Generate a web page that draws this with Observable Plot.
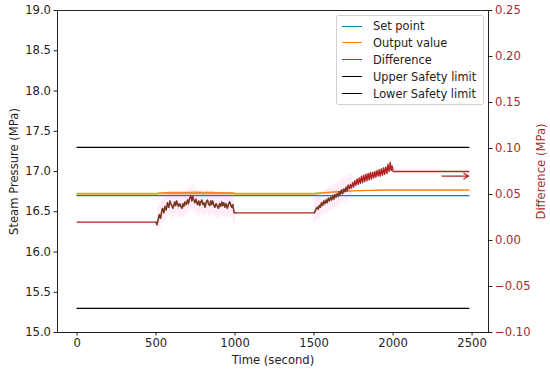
<!DOCTYPE html>
<html><head><meta charset="utf-8">
<script src="https://cdn.jsdelivr.net/npm/d3@7"></script>
<script src="https://cdn.jsdelivr.net/npm/@observablehq/plot@0.6"></script>
<style>
body{margin:0;background:#fff;font-family:"DejaVu Sans",sans-serif;}
#wrap{position:relative;width:550px;height:371px;}
#wrap svg{position:absolute;left:0;top:0;}
#legend{position:absolute;left:336px;top:15px;width:148px;height:90px;border:1px solid #d0d0d0;border-radius:3px;background:rgba(255,255,255,0.85);font-family:"DejaVu Sans",sans-serif;font-size:11.4px;color:#222;box-sizing:border-box;}
.row{position:absolute;left:0;height:17px;display:flex;align-items:center;white-space:nowrap;}
.sw{display:inline-block;width:20px;height:0;border-top:1.5px solid;margin-left:5px;margin-right:11px;}
</style></head><body><div id="wrap"></div>
<script>
// ---- data ----
const limitTime = [0, 2480];
const setPointValue = [16.7, 16.7];
const upperLimitValue = [17.3, 17.3];
const lowerLimitValue = [15.3, 15.3];

const outputTime  = [0, 500, 510, 530, 560, 600, 650, 700, 750, 800, 850, 900, 950, 990, 1000, 1500, 1550, 1600, 1650, 1700, 1750, 1800, 1850, 1900, 1950, 2000, 2480];
const outputValue = [16.724, 16.724, 16.729, 16.735, 16.738, 16.740, 16.739, 16.741, 16.742, 16.740, 16.739, 16.738, 16.737, 16.735, 16.724, 16.724, 16.733, 16.742, 16.749, 16.755, 16.759, 16.763, 16.766, 16.768, 16.770, 16.771, 16.771];

const oliveTime  = [0, 1500, 1545];
const oliveValue = [16.724, 16.724, 16.731];

const diffTime = [0, 500, 505, 512, 520, 528, 536, 541, 549, 556, 564, 572, 580, 588, 593, 600, 606, 612, 618, 624, 630, 636, 642, 650, 657, 664, 670, 676, 682, 690, 699, 705, 712, 720, 726, 732, 739, 746, 752, 762, 770, 776, 783, 790, 796, 802, 810, 818, 825, 832, 840, 846, 852, 858, 865, 872, 880, 888, 895, 902, 909, 916, 922, 928, 935, 942, 951, 958, 965, 972, 978, 985, 990, 995, 1000,
  1500, 1505, 1512, 1519, 1526, 1533, 1540, 1547, 1554, 1561, 1568, 1575, 1582, 1590, 1597, 1604, 1611, 1618, 1625, 1632, 1639, 1646, 1653, 1660, 1667, 1674, 1681, 1688, 1695, 1702, 1709, 1716, 1723, 1730, 1737, 1744, 1751, 1758, 1765, 1772, 1779, 1786, 1793, 1800, 1807, 1814, 1821, 1828, 1835, 1842, 1849, 1856, 1863, 1870, 1877, 1884, 1891, 1898, 1905, 1912, 1919, 1926, 1933, 1940, 1947, 1954, 1961, 1968, 1975, 1982, 1988, 1994, 2000, 2480];
const diffValue = [0.020, 0.020, 0.017, 0.022, 0.028, 0.024, 0.032, 0.035, 0.030, 0.037, 0.033, 0.041, 0.036, 0.043, 0.040, 0.038, 0.035, 0.038, 0.042, 0.038, 0.043, 0.040, 0.037, 0.040, 0.037, 0.035, 0.040, 0.037, 0.042, 0.039, 0.044, 0.040, 0.046, 0.048, 0.043, 0.048, 0.044, 0.041, 0.045, 0.039, 0.043, 0.038, 0.042, 0.044, 0.039, 0.041, 0.036, 0.042, 0.044, 0.040, 0.038, 0.043, 0.039, 0.043, 0.039, 0.036, 0.040, 0.037, 0.035, 0.040, 0.037, 0.042, 0.038, 0.041, 0.036, 0.040, 0.035, 0.039, 0.042, 0.039, 0.036, 0.039, 0.034, 0.030, 0.030,
  0.030, 0.031, 0.034, 0.036, 0.034, 0.038, 0.036, 0.041, 0.038, 0.043, 0.040, 0.044, 0.041, 0.046, 0.043, 0.047, 0.044, 0.049, 0.045, 0.050, 0.047, 0.051, 0.048, 0.053, 0.050, 0.055, 0.051, 0.056, 0.053, 0.058, 0.054, 0.060, 0.056, 0.061, 0.057, 0.063, 0.058, 0.065, 0.060, 0.067, 0.061, 0.068, 0.062, 0.070, 0.063, 0.071, 0.064, 0.072, 0.065, 0.073, 0.066, 0.074, 0.067, 0.074, 0.068, 0.075, 0.069, 0.076, 0.070, 0.077, 0.070, 0.078, 0.071, 0.079, 0.072, 0.080, 0.073, 0.083, 0.075, 0.085, 0.076, 0.081, 0.075, 0.075];

const bandRanges = [[508, 1000], [1500, 1750]];
const bandHalfWidth = 0.013;
const darkRanges = [[500, 1000], [1500, 1720]];

const arrowX1 = [2310], arrowX2 = [2478], arrowY = [0.07];

const xTicks = [0, 500, 1000, 1500, 2000, 2500];
const pressureTicks = [15, 15.5, 16, 16.5, 17, 17.5, 18, 18.5, 19];
const diffTicks = [-0.10, -0.05, 0.00, 0.05, 0.10, 0.15, 0.20, 0.25];

const legendLabels = ["Set point", "Output value", "Difference", "Upper Safety limit", "Lower Safety limit"];
const legendColors = ["#1f77b4", "#ff7f0e", "#c62828", "#000000", "#000000"];

// ---- tables ----
const zip = (t, v) => t.map((x, i) => ({t: x, v: v[i]}));
const setData = zip(limitTime, setPointValue);
const upperData = zip(limitTime, upperLimitValue);
const lowerData = zip(limitTime, lowerLimitValue);
const outData = zip(outputTime, outputValue);
const oliveData = zip(oliveTime, oliveValue);
const diffData = zip(diffTime, diffValue);
const inRange = ([a, b]) => (d) => d.t >= a && d.t <= b;
const bandData = bandRanges.map(r => diffData.filter(inRange(r)));
const darkData = darkRanges.map(r => diffData.filter(inRange(r)));
const arrowData = arrowX1.map((x, i) => ({x1: x, x2: arrowX2[i], y: arrowY[i]}));

const W = 550, H = 371, mL = 57, mR = 62, mT = 10, mB = 39;
const xDomain = [-124, 2604];
const FS = 11.6;
const common = {width: W, height: H, marginLeft: mL, marginRight: mR, marginTop: mT, marginBottom: mB};
const font = {fontFamily: "DejaVu Sans", fontSize: FS + "px", color: "#222"};

const p1 = Plot.plot({
  ...common,
  style: {...font, background: "white"},
  x: {domain: xDomain},
  y: {domain: [15, 19]},
  marks: [
    Plot.frame({stroke: "#222"}),
    Plot.axisX({ticks: xTicks, tickFormat: d3.format("d"), fontSize: FS, tickSize: 3.5, tickPadding: 3, label: "Time (second)", labelAnchor: "center", labelArrow: "none", labelOffset: 31}),
    Plot.axisY({ticks: pressureTicks, tickFormat: d3.format(".1f"), fontSize: FS, tickSize: 3.5, tickPadding: 3, label: "Steam Pressure (MPa)", labelAnchor: "center", labelArrow: "none", labelOffset: 48}),
    Plot.line(upperData, {x: "t", y: "v", stroke: "#000", strokeWidth: 1.4}),
    Plot.line(lowerData, {x: "t", y: "v", stroke: "#000", strokeWidth: 1.4}),
    Plot.line(setData, {x: "t", y: "v", stroke: "#1f77b4", strokeWidth: 1.4}),
    Plot.line(outData, {x: "t", y: "v", stroke: "#ff7f0e", strokeWidth: 1.4}),
    Plot.line(oliveData, {x: "t", y: "v", stroke: "#a9c12a", strokeWidth: 1.7})
  ]
});

const p2 = Plot.plot({
  ...common,
  style: {...font, background: "transparent"},
  x: {domain: xDomain, axis: null},
  y: {domain: [-0.10, 0.25]},
  marks: [
    ...bandData.map(b => Plot.areaY(b, {x: "t", y1: d => d.v - bandHalfWidth, y2: d => d.v + bandHalfWidth, fill: "#ff55cc", fillOpacity: 0.11})),
    Plot.line(diffData, {x: "t", y: "v", stroke: "#b22222", strokeWidth: 1.4}),
    ...darkData.map(b => Plot.line(b, {x: "t", y: "v", stroke: "#3d4a1a", strokeOpacity: 0.55, strokeWidth: 1.4})),
    Plot.arrow(arrowData, {x1: "x1", x2: "x2", y1: "y", y2: "y", stroke: "#b22222", strokeWidth: 1.2, headLength: 7, bend: 0}),
    Plot.axisY({anchor: "right", ticks: diffTicks, tickFormat: d3.format(".2f"), fontSize: FS, tickSize: 3.5, tickPadding: 3, stroke: "#222", fill: "#a52a2a", label: "Difference (MPa)", labelAnchor: "center", labelArrow: "none", labelOffset: 56})
  ]
});

const wrap = document.getElementById("wrap");
wrap.appendChild(p1);
wrap.appendChild(p2);

const lg = document.createElement("div");
lg.id = "legend";
legendLabels.forEach((lab, i) => {
  const r = document.createElement("div");
  r.className = "row";
  r.style.top = (1.5 + i * 16.9) + "px";
  const s = document.createElement("span");
  s.className = "sw";
  s.style.borderTopColor = legendColors[i];
  const tx = document.createElement("span");
  tx.textContent = lab;
  r.appendChild(s); r.appendChild(tx);
  lg.appendChild(r);
});
wrap.appendChild(lg);
</script></body></html>
